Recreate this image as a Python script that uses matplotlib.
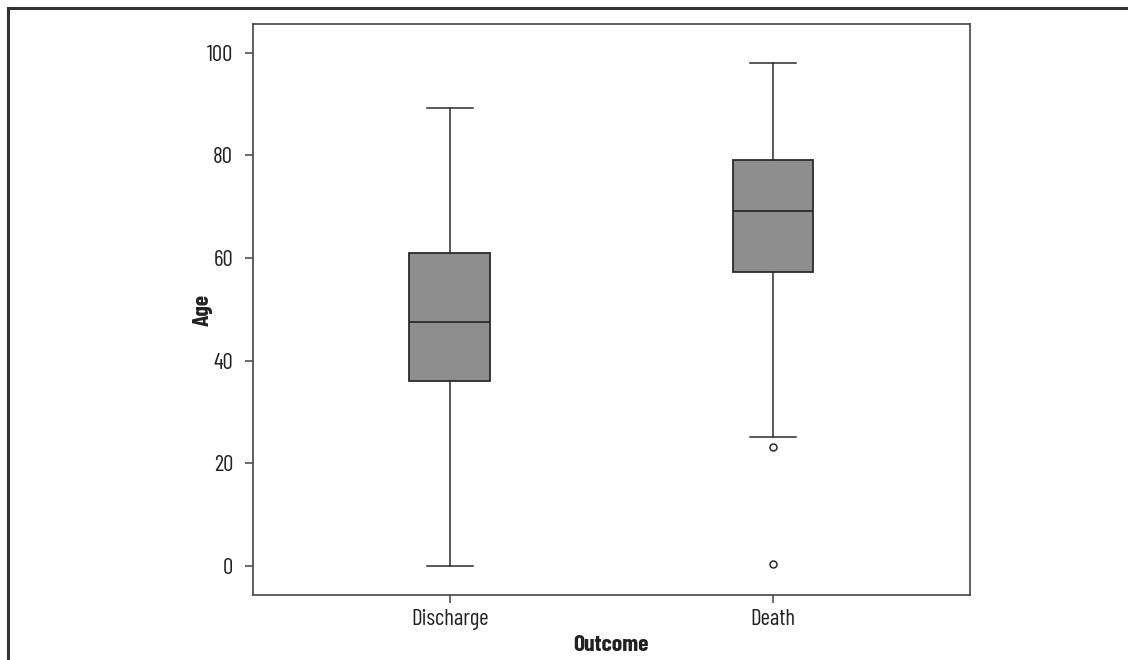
import matplotlib
matplotlib.use("Agg")
import matplotlib.pyplot as plt
from matplotlib.lines import Line2D

plt.rcParams['font.family'] = ['Barlow Condensed', 'Archivo Narrow', 'DejaVu Sans']

# datos
categories = ["Discharge", "Death"]
whislo = [0.0, 25.1]
q1 = [36.0, 57.2]
med = [47.5, 69.2]
q3 = [61.0, 79.2]
whishi = [89.2, 98.0]
outliers = [[], [23.1, 0.3]]

stats = []
for i, name in enumerate(categories):
    stats.append({
        "label": name,
        "whislo": whislo[i],
        "q1": q1[i],
        "med": med[i],
        "q3": q3[i],
        "whishi": whishi[i],
        "fliers": outliers[i],
    })

fig = plt.figure(figsize=(11.28, 6.6), dpi=100)
ax = fig.add_axes([0.224, 0.0985, 0.636, 0.865])

line_c = "#2b2b2b"
ax.bxp(stats, positions=[1, 2], widths=0.25, patch_artist=True,
       boxprops=dict(facecolor="#8e8e8e", edgecolor=line_c, linewidth=1.3),
       medianprops=dict(color=line_c, linewidth=1.3),
       whiskerprops=dict(color=line_c, linewidth=1.1),
       capprops=dict(color=line_c, linewidth=1.1),
       capwidths=0.142,
       flierprops=dict(marker="o", markersize=5, markerfacecolor="white",
                       markeredgecolor=line_c, markeredgewidth=1.1))

ax.set_xlim(0.39, 2.61)
ax.set_ylim(-5.7, 105.6)
ax.set_yticks([0, 20, 40, 60, 80, 100])
ax.set_xticks([1, 2])
ax.set_xticklabels(categories)

for s in ax.spines.values():
    s.set_color("#444444")
    s.set_linewidth(1.2)
ax.tick_params(axis="both", direction="out", length=6, width=1.1,
               color="#444444", labelsize=16.5, labelcolor="#222222")
ax.tick_params(axis="y", pad=8)
ax.tick_params(axis="x", pad=4)

ax.set_ylabel("Age", fontsize=17, fontweight="bold", labelpad=-4, color="#222222")
ax.set_xlabel("Outcome", fontsize=17, fontweight="bold", labelpad=4, color="#222222")

# marco exterior (solo arriba e izquierda)
fig.add_artist(Line2D([0.0071, 1.0], [0.9879, 0.9879], transform=fig.transFigure,
                      color="#333333", linewidth=2.2))
fig.add_artist(Line2D([0.0071, 0.0071], [0.0, 0.9879], transform=fig.transFigure,
                      color="#333333", linewidth=2.2))

fig.savefig("out.png", dpi=100)
